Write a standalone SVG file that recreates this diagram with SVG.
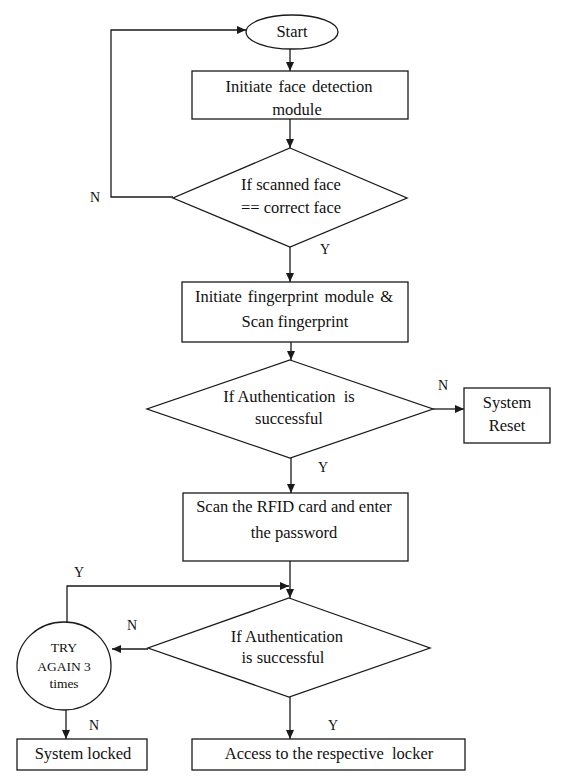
<svg xmlns="http://www.w3.org/2000/svg" width="571" height="776" viewBox="0 0 571 776">
<style>
.s{fill:#fff;stroke:#1a1a1a;stroke-width:1.3}
.t{font-family:"Liberation Serif","Times New Roman",serif;font-size:16.5px;fill:#111;text-anchor:middle}
.sm{font-size:13.5px}
.l{font-family:"Liberation Serif","Times New Roman",serif;font-size:14px;fill:#111;text-anchor:middle}
.c{fill:none;stroke:#1a1a1a;stroke-width:1.3}
</style>
<defs>
<marker id="a" markerWidth="10" markerHeight="8" refX="9" refY="4" orient="auto" markerUnits="userSpaceOnUse">
<path d="M0,0 L9,4 L0,8 Z" fill="#1a1a1a"/>
</marker>
</defs>
<rect width="571" height="776" fill="#fff"/>
<g id="connectors">
<path class="c" d="M290,49 V71" marker-end="url(#a)"/>
<path class="c" d="M290,119 V148" marker-end="url(#a)"/>
<path class="c" d="M173,197 H111 V30 H246" marker-end="url(#a)"/>
<path class="c" d="M290,247 V282" marker-end="url(#a)"/>
<path class="c" d="M291,342 V360" marker-end="url(#a)"/>
<path class="c" d="M433,409 H464" marker-end="url(#a)"/>
<path class="c" d="M291,458 V493" marker-end="url(#a)"/>
<path class="c" d="M290,561 V598" marker-end="url(#a)"/>
<path class="c" d="M67,622 V586 H289" marker-end="url(#a)"/>
<path class="c" d="M148,649 H112" marker-end="url(#a)"/>
<path class="c" d="M66,710 V739" marker-end="url(#a)"/>
<path class="c" d="M290,697 V739" marker-end="url(#a)"/>
<text class="l" x="95" y="202">N</text>
<text class="l" x="325" y="254">Y</text>
<text class="l" x="443" y="390">N</text>
<text class="l" x="323" y="472">Y</text>
<text class="l" x="79" y="577">Y</text>
<text class="l" x="132" y="630">N</text>
<text class="l" x="94" y="730">N</text>
<text class="l" x="333" y="730">Y</text>
</g>
<g id="start">
<ellipse class="s" cx="292" cy="32" rx="46" ry="17"/>
<text class="t" x="292" y="37">Start</text>
</g>
<g id="face-detection">
<rect class="s" x="192" y="71" width="216" height="48"/>
<text class="t" x="299" y="92" word-spacing="2">Initiate face detection</text>
<text class="t" x="297" y="115">module</text>
</g>
<g id="face-check">
<polygon class="s" points="290,148 407,198 290,247 173,198"/>
<text class="t" x="291" y="190">If scanned face</text>
<text class="t" x="291" y="213">== correct face</text>
</g>
<g id="fingerprint">
<rect class="s" x="182" y="282" width="226" height="60"/>
<text class="t" x="294" y="302" word-spacing="2">Initiate fingerprint module &amp;</text>
<text class="t" x="295" y="327">Scan fingerprint</text>
</g>
<g id="fingerprint-check">
<polygon class="s" points="290,360 433,409 290,458 147,409"/>
<text class="t" x="289" y="402" xml:space="preserve">If Authentication  is</text>
<text class="t" x="289" y="424">successful</text>
</g>
<g id="system-reset">
<rect class="s" x="464" y="388" width="86" height="55"/>
<text class="t" x="507" y="408">System</text>
<text class="t" x="507" y="431">Reset</text>
</g>
<g id="rfid">
<rect class="s" x="183" y="493" width="225" height="68"/>
<text class="t" x="294" y="512">Scan the RFID card and enter</text>
<text class="t" x="294" y="538">the password</text>
</g>
<g id="rfid-check">
<polygon class="s" points="289,598 430,648 289,697 148,648"/>
<text class="t" x="287" y="642">If Authentication</text>
<text class="t" x="283" y="663">is successful</text>
</g>
<g id="try-again">
<ellipse class="s" cx="64" cy="666" rx="47" ry="44"/>
<text class="t sm" x="64" y="652">TRY</text>
<text class="t sm" x="64" y="671">AGAIN 3</text>
<text class="t sm" x="64" y="688">times</text>
</g>
<g id="system-locked">
<rect class="s" x="17" y="739" width="130" height="31"/>
<text class="t" x="83" y="759">System locked</text>
</g>
<g id="access">
<rect class="s" x="192" y="739" width="273" height="31"/>
<text class="t" x="329" y="759" xml:space="preserve">Access to the respective  locker</text>
</g>
</svg>
